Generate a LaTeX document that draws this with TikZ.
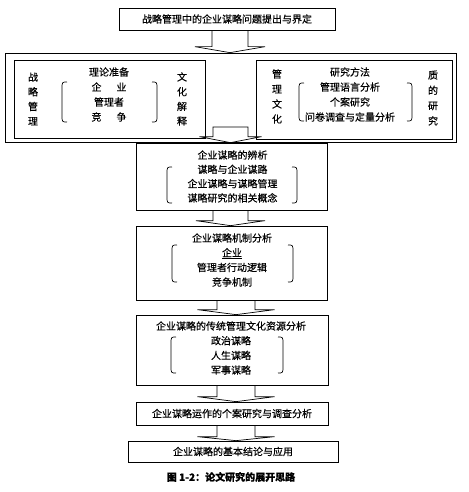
\documentclass[tikz,border=0pt]{standalone}
\usepackage{fontspec}
\setmainfont{Noto Sans CJK SC}[FakeBold=0.4]
\usetikzlibrary{calc}
\newcommand{\mybrk}[4]{\draw[paren] (#2,#3) .. controls (#1,#3) .. (#1,#3+7) -- (#1,#4-7) .. controls (#1,#4) .. (#2,#4);}
\newcommand{\flatarr}[6]{%
  \draw[arrline] let \p1=(#1.south), \p2=(#2.north) in
   (#3pt-#4pt,\y1) -- (#3pt-#4pt,\y2+#6pt) -- (#3pt-#5pt,\y2+#6pt) -- (#3pt,\y2)
   -- (#3pt+#5pt,\y2+#6pt) -- (#3pt+#4pt,\y2+#6pt) -- (#3pt+#4pt,\y1);}
\begin{document}
\begin{tikzpicture}[x=1pt,y=-1pt,
  box/.style={draw,line width=0.7pt,rectangle,inner sep=0pt,font=\fontsize{10}{12}\selectfont},
  txt/.style={align=center,inner sep=0pt},
  fs/.style={font=\fontsize{10}{#1}\selectfont},
  arrline/.style={line width=0.7pt,line join=miter},
  paren/.style={line width=0.7pt}]
\useasboundingbox (0,0) rectangle (468,492);
% boxes
\node[box,minimum width=216pt,minimum height=22pt] (b1) at (227,19) {战略管理中的企业谋略问题提出与界定};
\node[box,minimum width=451pt,minimum height=89pt] (outer) at (230.5,97.5) {};
\node[box,minimum width=191pt,minimum height=78pt] (inL) at (109.5,99) {};
\node[box,minimum width=196pt,minimum height=79pt] (inR) at (354,99.5) {};
\node[box,minimum width=191pt,minimum height=67pt] (b2) at (231.5,176.5) {};
\node[box,minimum width=191pt,minimum height=74pt] (b3) at (231.5,263) {};
\node[box,minimum width=192pt,minimum height=70pt] (b4) at (232,350) {};
\node[box,minimum width=192pt,minimum height=23pt] (b5) at (232,413.5) {企业谋略运作的个案研究与调查分析};
\node[box,minimum width=210pt,minimum height=21pt] (b6) at (233,451.5) {企业谋略的基本结论与应用};
% texts inside left inner box
\node[txt,fs=14.7] (vl1) at (33,99) {战\\略\\管\\理};
\node[txt,fs=15] (tl) at (109,94.5) {理论准备\\企\hspace{1.5em}业\\管理者\\竞\hspace{1.5em}争};
\node[txt,fs=14.7] (vl2) at (182,99) {文\\化\\解\\释};
% texts inside right inner box
\node[txt,fs=15] (vr1) at (277,96.5) {管\\理\\文\\化};
\node[txt,fs=15] (tr) at (350,94.5) {研究方法\\管理语言分析\\个案研究\\问卷调查与定量分析};
\node[txt,fs=15.3] (vr2) at (433,98) {质\\的\\研\\究};
% box texts
\node[txt,fs=14.3] (t2) at (232.5,176.5) {企业谋略的辨析\\谋略与企业谋路\\企业谋略与谋略管理\\谋略研究的相关概念};
\node[txt,fs=14.7] (t3) at (232,260) {企业谋略机制分析\\\underline{企业}\\管理者行动逻辑\\竞争机制};
\node[txt,fs=14.7] (t4) at (231,348) {企业谋略的传统管理文化资源分析\\政治谋略\\人生谋略\\军事谋略};
% brackets
\mybrk{62}{67}{82}{122}
\mybrk{157}{152}{82}{122}
\mybrk{299}{304}{83}{121}
\mybrk{412}{407}{83}{121}
\mybrk{167}{172}{167}{203}
\mybrk{297}{292}{167}{203}
\mybrk{172}{177}{245}{282}
\mybrk{293}{288}{245}{282}
\mybrk{171}{176}{337}{373}
\mybrk{283}{278}{337}{373}
% arrows
\flatarr{b1}{outer}{230}{18}{35}{6}
\coordinate (a2) at (230.5,127);
\draw[arrline] let \p1=(a2), \p2=(b2.north) in
  (\x1-31pt,\y2+6pt) -- (\x1-17.5pt,\y2+6pt) -- (\x1-17.5pt,\y1) -- (\x1+17.5pt,\y1)
  -- (\x1+17.5pt,\y2+6pt) -- (\x1+31pt,\y2+6pt) -- (\x1,\y2) -- cycle;
\flatarr{b2}{b3}{230.5}{17.5}{34.5}{5}
\flatarr{b3}{b4}{236}{19}{38.5}{5}
\flatarr{b4}{b5}{236}{19}{38.5}{5}
\flatarr{b5}{b6}{236}{19}{38.5}{4}
% caption
\node[inner sep=0pt,font=\fontsize{10}{12}\selectfont\bfseries] (cap) at (231,477) {图 1-2：论文研究的展开思路};
\end{tikzpicture}
\end{document}
